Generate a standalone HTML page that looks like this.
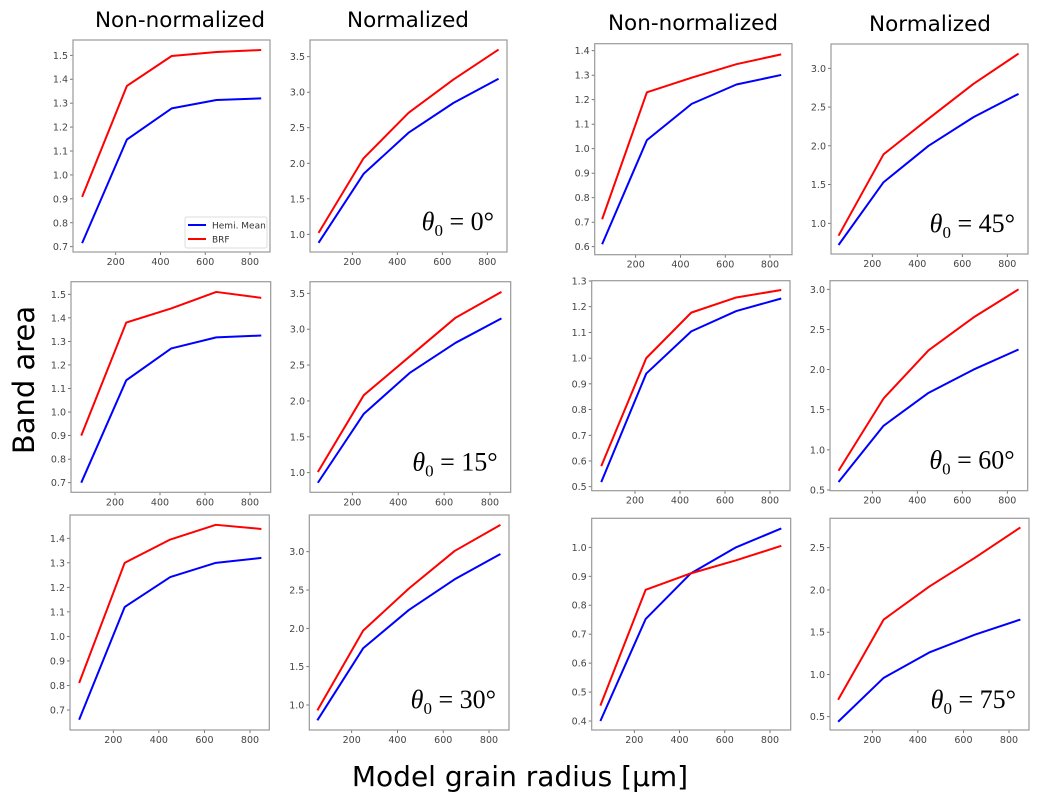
<!DOCTYPE html>
<html><head><meta charset="utf-8"><style>
body{margin:0;background:#fff;}
svg{display:block;font-family:"DejaVu Sans","Liberation Sans",sans-serif;}
</style></head><body>
<svg id="fig" width="1041" height="803" viewBox="0 0 1041 803">
<text x="180" y="27" font-size="21.5" text-anchor="middle">Non-normalized</text>
<text x="408" y="27" font-size="21.5" text-anchor="middle">Normalized</text>
<text x="693" y="30" font-size="21.5" text-anchor="middle">Non-normalized</text>
<text x="930" y="31" font-size="21.5" text-anchor="middle">Normalized</text>
<text x="0" y="0" font-size="29" text-anchor="middle" transform="translate(34,380) rotate(-90)">Band area</text>
<text x="520" y="786" font-size="28" text-anchor="middle">Model grain radius [μm]</text>
</svg>
<script>
const categories=[50,250,450,650,850];
const xTickLabels=[200,400,600,800];
const seriesNames=["Hemi. Mean","BRF"];
const blue1=[0.715,1.148,1.278,1.313,1.320], red1=[0.908,1.372,1.497,1.514,1.522];
const blue2=[0.88,1.85,2.43,2.85,3.19], red2=[1.02,2.07,2.71,3.18,3.60];
const blue3=[0.61,1.035,1.183,1.262,1.301], red3=[0.712,1.23,1.29,1.345,1.385];
const blue4=[0.72,1.53,2.0,2.37,2.67], red4=[0.84,1.89,2.35,2.80,3.19];
const blue5=[0.70,1.135,1.27,1.317,1.325], red5=[0.90,1.38,1.44,1.51,1.485];
const blue6=[0.86,1.82,2.39,2.81,3.15], red6=[1.01,2.08,2.62,3.16,3.52];
const blue7=[0.518,0.94,1.104,1.183,1.232], red7=[0.58,1.0,1.177,1.236,1.265];
const blue8=[0.60,1.30,1.71,2.00,2.25], red8=[0.74,1.64,2.24,2.65,3.0];
const blue9=[0.66,1.12,1.242,1.30,1.32], red9=[0.81,1.30,1.395,1.455,1.438];
const blue10=[0.80,1.74,2.24,2.64,2.97], red10=[0.93,1.97,2.52,3.01,3.35];
const blue11=[0.40,0.752,0.91,1.0,1.065], red11=[0.453,0.853,0.91,0.955,1.005];
const blue12=[0.44,0.96,1.26,1.47,1.65], red12=[0.70,1.65,2.04,2.38,2.74];
const yTicks1=[0.7,0.8,0.9,1.0,1.1,1.2,1.3,1.4,1.5];
const yTicks2=[1.0,1.5,2.0,2.5,3.0,3.5];
const yTicks3=[0.6,0.7,0.8,0.9,1.0,1.1,1.2,1.3,1.4];
const yTicks4=[1.0,1.5,2.0,2.5,3.0];
const yTicks7=[0.5,0.6,0.7,0.8,0.9,1.0,1.1,1.2,1.3];
const yTicks8=[0.5,1.0,1.5,2.0,2.5,3.0];
const yTicks9=[0.7,0.8,0.9,1.0,1.1,1.2,1.3,1.4];
const yTicks10=[1.0,1.5,2.0,2.5,3.0];
const yTicks11=[0.4,0.5,0.6,0.7,0.8,0.9,1.0];
const yTicks12=[0.5,1.0,1.5,2.0,2.5];
const angles=["0°","15°","30°","45°","60°","75°"];

const panels=[
 {id:1,b:blue1,r:red1,t:yTicks1,box:[73,270,40,252],xa:[115.7,250],ya:[0.7,246.7,1.5,55.3],legend:true},
 {id:2,b:blue2,r:red2,t:yTicks2,box:[310,507,40,252],xa:[352.3,487.3],ya:[1.0,234.3,3.5,56.7],ang:0},
 {id:3,b:blue3,r:red3,t:yTicks3,box:[594.7,792,43.7,254.7],xa:[635.7,770],ya:[0.6,246.7,1.4,50.7]},
 {id:4,b:blue4,r:red4,t:yTicks4,box:[831,1028,44,254],xa:[872.3,1007.3],ya:[1.0,223.3,3.0,68.3],ang:3},
 {id:5,b:blue5,r:red5,t:yTicks1,box:[71,270.7,281.7,492.3],xa:[115,250],ya:[0.7,482.7,1.5,294.3]},
 {id:6,b:blue6,r:red6,t:yTicks2,box:[310,510.7,281.7,492.3],xa:[352.3,490],ya:[1.0,472.7,3.5,293.3],ang:1},
 {id:7,b:blue7,r:red7,t:yTicks7,box:[591.7,790,280.7,490.7],xa:[635,770],ya:[0.5,486.7,1.3,281]},
 {id:8,b:blue8,r:red8,t:yTicks8,box:[830,1027.7,280.7,490.7],xa:[872.3,1007.3],ya:[0.5,490,3.0,289.3],ang:4},
 {id:9,b:blue9,r:red9,t:yTicks9,box:[70,269.3,515,730],xa:[113.3,250],ya:[0.7,710,1.4,538.3]},
 {id:10,b:blue10,r:red10,t:yTicks10,box:[309.3,509,515,730],xa:[351.7,489],ya:[1.0,705,3.0,551.7],ang:2},
 {id:11,b:blue11,r:red11,t:yTicks11,box:[591.7,790.7,518.3,730],xa:[634.3,770],ya:[0.4,721,1.0,547.3]},
 {id:12,b:blue12,r:red12,t:yTicks12,box:[830,1029,518.3,730],xa:[872.3,1009],ya:[0.5,716.7,2.5,547.7],ang:5}
];
const NS="http://www.w3.org/2000/svg";
const svg=document.getElementById('fig');
function mk(tag,attrs,parent){const e=document.createElementNS(NS,tag);for(const k in attrs)e.setAttribute(k,attrs[k]);(parent||svg).appendChild(e);return e;}
panels.forEach(p=>{
  const g=mk('g',{});
  
  
  const [x0,x1,y0,y1]=p.box;
  const xs=v=>p.xa[0]+(v-200)*(p.xa[1]-p.xa[0])/600;
  const ys=v=>p.ya[1]+(v-p.ya[0])*(p.ya[3]-p.ya[1])/(p.ya[2]-p.ya[0]);
  xTickLabels.forEach(t=>{
    mk('line',{x1:xs(t),x2:xs(t),y1:y1,y2:y1+3,stroke:'#555','stroke-width':0.8},g);
    const tx=mk('text',{x:xs(t),y:y1+13,'font-size':9.5,fill:'#444','text-anchor':'middle'},g);
    tx.textContent=t;
    
    
  });
  p.t.forEach(t=>{
    mk('line',{x1:x0-3,x2:x0,y1:ys(t),y2:ys(t),stroke:'#555','stroke-width':0.8},g);
    const tx=mk('text',{x:x0-5,y:ys(t)+3.5,'font-size':9.5,fill:'#444','text-anchor':'end'},g);
    tx.textContent=t.toFixed(1);
    
    
  });
  [[p.b,'#0000ff','hemi-mean-line'],[p.r,'#ff0000','brf-line']].forEach(([arr,c,n])=>{
    const pl=mk('polyline',{points:arr.map((v,i)=>xs(categories[i])+','+ys(v)).join(' '),fill:'none',stroke:c,'stroke-width':2,'stroke-linejoin':'round'},g);
    
    
  });
  const fr=mk('rect',{x:x0,y:y0,width:x1-x0,height:y1-y0,fill:'none',stroke:'#999','stroke-width':1.2},g);
  
  
  if(p.ang!==undefined){
    const tx=mk('text',{x:x1-13,y:y1-22,'font-size':26,'font-family':'"Liberation Serif",serif','text-anchor':'end'},g);
    tx.innerHTML='<tspan font-style="italic">θ</tspan><tspan font-size="17" dy="6">0</tspan><tspan dy="-6"> = '+angles[p.ang]+'</tspan>';
    
    
  }
  if(p.legend){
    const lg=mk('g',{},g);
    
    
    mk('rect',{x:185,y:217,width:82,height:31,fill:'#fff',stroke:'#ddd','stroke-width':1,rx:2},lg);
    [['#0000ff',225],['#ff0000',239]].forEach(([c,y],i)=>{
      mk('line',{x1:188,x2:206,y1:y,y2:y,stroke:c,'stroke-width':2},lg);
      const tx=mk('text',{x:212,y:y+3.5,'font-size':9,fill:'#333'},lg);
      tx.textContent=seriesNames[i];
      
      
    });
  }
});
</script>
</body></html>
